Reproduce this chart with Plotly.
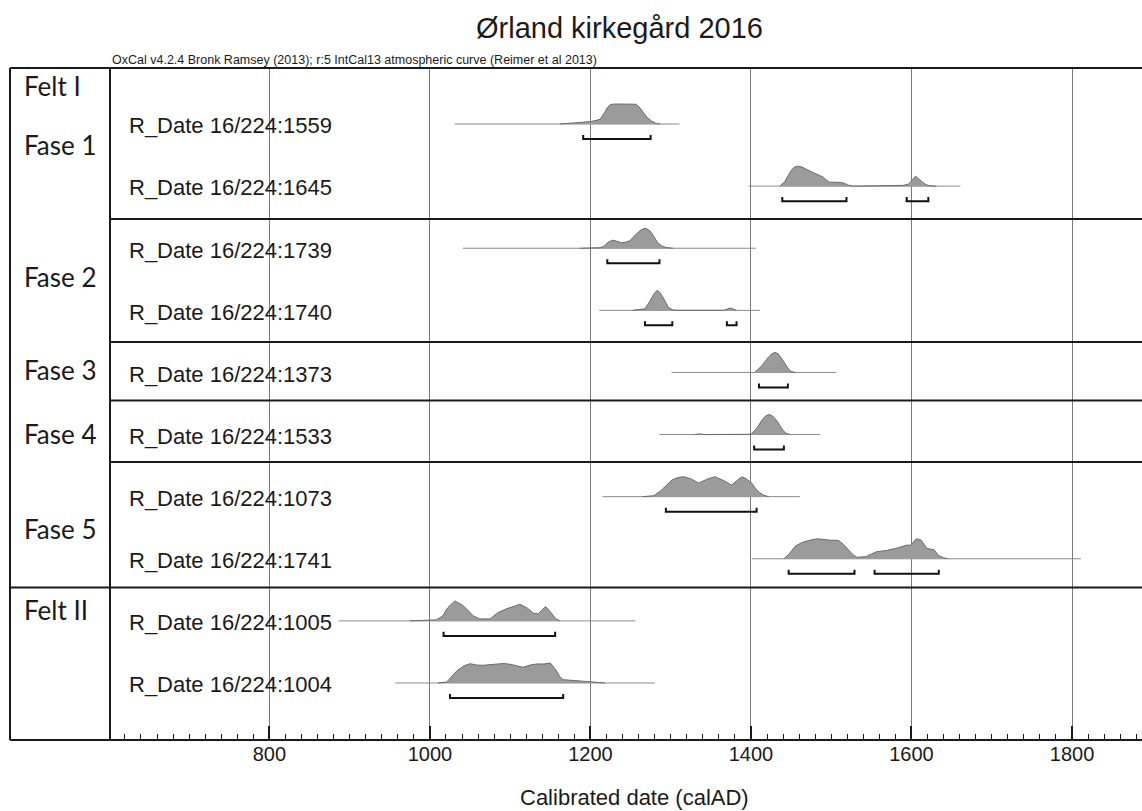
import plotly.graph_objects as go

# ---- data -------------------------------------------------------------
sample_labels = [
    "R_Date 16/224:1559", "R_Date 16/224:1645",
    "R_Date 16/224:1739", "R_Date 16/224:1740",
    "R_Date 16/224:1373", "R_Date 16/224:1533",
    "R_Date 16/224:1073", "R_Date 16/224:1741",
    "R_Date 16/224:1005", "R_Date 16/224:1004",
]

# extent of the thin baseline drawn under each distribution (cal AD)
line_start = [1031, 1397, 1041, 1211, 1301, 1286, 1215, 1401, 886, 957]
line_end = [1311, 1661, 1406, 1411, 1506, 1486, 1461, 1811, 1256, 1280]

# posterior probability curves (year, relative density)
dens_years = [
    [1162, 1187, 1201, 1212, 1215, 1218, 1221, 1225, 1230, 1245, 1257, 1262, 1266, 1270, 1276, 1282, 1287],
    [1436, 1442, 1449, 1453, 1457, 1463, 1471, 1482, 1490, 1494, 1498, 1511, 1516, 1521, 1527, 1557,
     1590, 1596, 1600, 1605, 1609, 1613, 1618, 1622, 1631],
    [1187, 1212, 1217, 1222, 1228, 1234, 1239, 1244, 1249, 1258, 1263, 1268, 1272, 1276, 1280, 1284, 1290, 1295, 1303],
    [1253, 1268, 1274, 1279, 1283, 1287, 1291, 1297, 1303, 1310, 1366, 1370, 1374, 1378, 1382],
    [1405, 1413, 1417, 1422, 1426, 1430, 1434, 1438, 1442, 1446, 1450, 1455],
    [1330, 1336, 1342, 1400, 1407, 1411, 1415, 1419, 1423, 1427, 1432, 1436, 1440, 1444, 1449],
    [1265, 1279, 1287, 1296, 1302, 1308, 1316, 1325, 1335, 1345, 1355, 1365, 1376, 1383, 1389, 1395,
     1401, 1406, 1411, 1416, 1422],
    [1441, 1448, 1455, 1463, 1472, 1483, 1498, 1509, 1515, 1521, 1527, 1532, 1543, 1556, 1569, 1582,
     1590, 1595, 1599, 1606, 1612, 1616, 1619, 1628, 1634, 1640, 1645],
    [975, 990, 1008, 1016, 1022, 1031, 1040, 1046, 1054, 1062, 1075, 1085, 1096, 1105, 1112, 1121,
     1129, 1135, 1140, 1144, 1148, 1152, 1157, 1162],
    [1010, 1021, 1033, 1042, 1050, 1058, 1066, 1075, 1083, 1092, 1100, 1108, 1116, 1125, 1133, 1142,
     1150, 1157, 1162, 1166, 1175, 1187, 1200, 1208, 1218],
]
dens_vals = [
    [0, 1.7, 2.5, 4.7, 8, 12, 16.5, 19.7, 20.2, 20.1, 20, 16, 11, 7, 3, 0.6, 0],
    [0, 4.3, 14.3, 18.5, 20, 19.3, 16, 12, 9, 6, 4, 3.7, 3, 1, 0, 0.3,
     0.8, 2, 5, 10, 7, 4.5, 1.5, 0.4, 0],
    [0, 0.5, 2, 6, 8, 6.8, 5.3, 6, 7.3, 14.7, 18, 19.7, 18.5, 15.3, 10, 5, 1.8, 0.7, 0],
    [0, 1.5, 9, 16, 19.7, 17, 12, 3, 0.3, 0, 0, 1.2, 2.3, 1.2, 0],
    [0.3, 6, 10.5, 15, 18, 19.3, 18, 14, 9, 4, 1, 0],
    [0, 0.7, 0, 0.3, 6, 10.5, 16, 19, 20, 18.5, 14, 9, 4, 1.2, 0],
    [0, 1, 5.7, 13.3, 17.5, 19.5, 20.7, 18.5, 14, 18, 20.7, 17, 12, 17, 20.7, 18,
     14, 8, 4, 1.5, 0],
    [0, 5, 12, 15.5, 17.7, 19.3, 18, 17.7, 14, 9, 4, 1.5, 2, 6.7, 8, 10.3,
     12, 13.3, 13, 19.3, 18, 14, 10, 8.7, 3, 1, 0],
    [0, 0.5, 1, 5, 13, 20, 16, 11.7, 5, 2, 2, 8.3, 12.3, 14.5, 16.7, 13,
     7.7, 7, 11, 14.3, 11, 7, 2, 0],
    [0, 1, 11.7, 17, 19.3, 18, 17.7, 18.5, 19.3, 19.5, 18.7, 17.5, 15.7, 18, 19, 19,
     20, 13, 6, 3.3, 2.5, 2, 1.2, 0.7, 0],
]

# 95.4% highest posterior density ranges (cal AD)
hpd_from = [[1191], [1439, 1594], [1221], [1268, 1370], [1410], [1404], [1294], [1447, 1554], [1017], [1025]]
hpd_to = [[1275], [1519, 1621], [1286], [1302, 1382], [1446], [1441], [1407], [1529, 1634], [1156], [1166]]

group_labels = ["Felt I", "Fase 1", "Fase 2", "Fase 3", "Fase 4", "Fase 5", "Felt II"]

x_ticks = [800, 1000, 1200, 1400, 1600, 1800]

# ---- geometry (row units: one row per sample, 0 at top) -----------------
Y_TOP, Y_BOTTOM = -0.902, 9.918
PEAK_H = 0.322          # height of a curve's maximum, in row units
BRACKET_DY = 0.242      # bracket offset below baseline
BRACKET_TICK = 0.065
LEFT_EDGE = -0.0969     # outer frame, paper x
group_y = [-0.62, 0.338, 2.459, 3.96, 4.99, 6.52, 7.83]
phase_lines = [1.530, 3.510, 4.452, 5.443]
field_line = 7.464

FILL = "#9b9b9b"
EDGE = "#6a6a6a"
BASE = "#8a8a8a"

fig = go.Figure()

for i, label in enumerate(sample_labels):
    # thin baseline
    fig.add_trace(go.Scatter(
        x=[line_start[i], line_end[i]], y=[i, i], mode="lines",
        line=dict(color=BASE, width=1), hoverinfo="skip", showlegend=False))
    # filled probability curve
    ys = dens_years[i]
    vs = dens_vals[i]
    vmax = max(vs)
    fig.add_trace(go.Scatter(
        x=[ys[0]] + ys + [ys[-1]],
        y=[i] + [i - v / vmax * PEAK_H for v in vs] + [i],
        mode="lines", fill="toself", fillcolor=FILL,
        line=dict(color=EDGE, width=1), hoverinfo="skip", showlegend=False))

# HPD brackets
bx, by = [], []
for i in range(len(sample_labels)):
    for a, b in zip(hpd_from[i], hpd_to[i]):
        yb = i + BRACKET_DY
        bx += [a, a, b, b, None]
        by += [yb - BRACKET_TICK, yb, yb, yb - BRACKET_TICK, None]
fig.add_trace(go.Scatter(x=bx, y=by, mode="lines",
                         line=dict(color="#111111", width=2),
                         hoverinfo="skip", showlegend=False))

# ---- frame and separators ------------------------------------------------
shapes = []
black = dict(color="#1a1a1a", width=2)
shapes.append(dict(type="line", xref="paper", yref="paper", x0=LEFT_EDGE, x1=1, y0=1, y1=1, line=black))
shapes.append(dict(type="line", xref="paper", yref="paper", x0=LEFT_EDGE, x1=1, y0=0, y1=0, line=black))
shapes.append(dict(type="line", xref="paper", yref="paper", x0=LEFT_EDGE, x1=LEFT_EDGE, y0=0, y1=1, line=black))
shapes.append(dict(type="line", xref="paper", yref="paper", x0=0, x1=0, y0=0, y1=1, line=black))
for yl in phase_lines:
    shapes.append(dict(type="line", xref="paper", yref="y", x0=0, x1=1, y0=yl, y1=yl, line=black))
shapes.append(dict(type="line", xref="paper", yref="y", x0=LEFT_EDGE, x1=1,
                   y0=field_line, y1=field_line, line=black))

annotations = []
for i, label in enumerate(sample_labels):
    annotations.append(dict(
        text=label, xref="paper", yref="y", x=0.0165, y=i + 0.03,
        xanchor="left", yanchor="middle", showarrow=False,
        font=dict(family="Liberation Sans, Arial", size=22, color="#1a1a1a")))
for g, gy in zip(group_labels, group_y):
    annotations.append(dict(
        text=g, xref="paper", yref="y", x=-0.0853, y=gy,
        xanchor="left", yanchor="middle", showarrow=False,
        font=dict(family="Lato, Noto Sans", size=26, color="#1a1a1a")))

annotations.append(dict(
    text="Ørland kirkegård 2016", xref="paper", yref="paper",
    x=0.4937, y=1.0588, xanchor="center", yanchor="middle", showarrow=False,
    font=dict(family="Liberation Sans, Arial", size=29, color="#1a1a1a")))
annotations.append(dict(
    text="OxCal v4.2.4 Bronk Ramsey (2013); r:5 IntCal13 atmospheric curve (Reimer et al 2013)",
    xref="paper", yref="paper", x=0, y=1.0119, xanchor="left", yanchor="middle",
    showarrow=False, font=dict(family="Liberation Sans, Arial", size=12.5, color="#1a1a1a")))
annotations.append(dict(
    text="Calibrated date (calAD)", xref="paper", yref="paper",
    x=0.5078, y=-0.0863, xanchor="center", yanchor="middle", showarrow=False,
    font=dict(family="Liberation Sans, Arial", size=22, color="#1a1a1a")))

fig.update_layout(
    width=1142, height=811,
    margin=dict(l=110, r=0, t=68, b=71, pad=0),
    paper_bgcolor="white", plot_bgcolor="white",
    shapes=shapes, annotations=annotations,
    xaxis=dict(
        range=[601.4, 1887.2], tickvals=x_ticks, ticktext=[str(t) for t in x_ticks],
        ticks="inside", ticklen=14, tickwidth=1.5, tickcolor="#1a1a1a",
        showgrid=True, gridcolor="#7a7a7a", gridwidth=1.3,
        zeroline=False, showline=False,
        tickfont=dict(family="Liberation Sans, Arial", size=20, color="#1a1a1a"),
        minor=dict(dtick=20, tick0=0, ticks="inside", ticklen=6, tickwidth=1,
                   tickcolor="#1a1a1a", showgrid=False),
    ),
    yaxis=dict(range=[Y_BOTTOM, Y_TOP], showgrid=False, zeroline=False,
               showticklabels=False, ticks="", showline=False),
)

fig.write_html("out.html")
